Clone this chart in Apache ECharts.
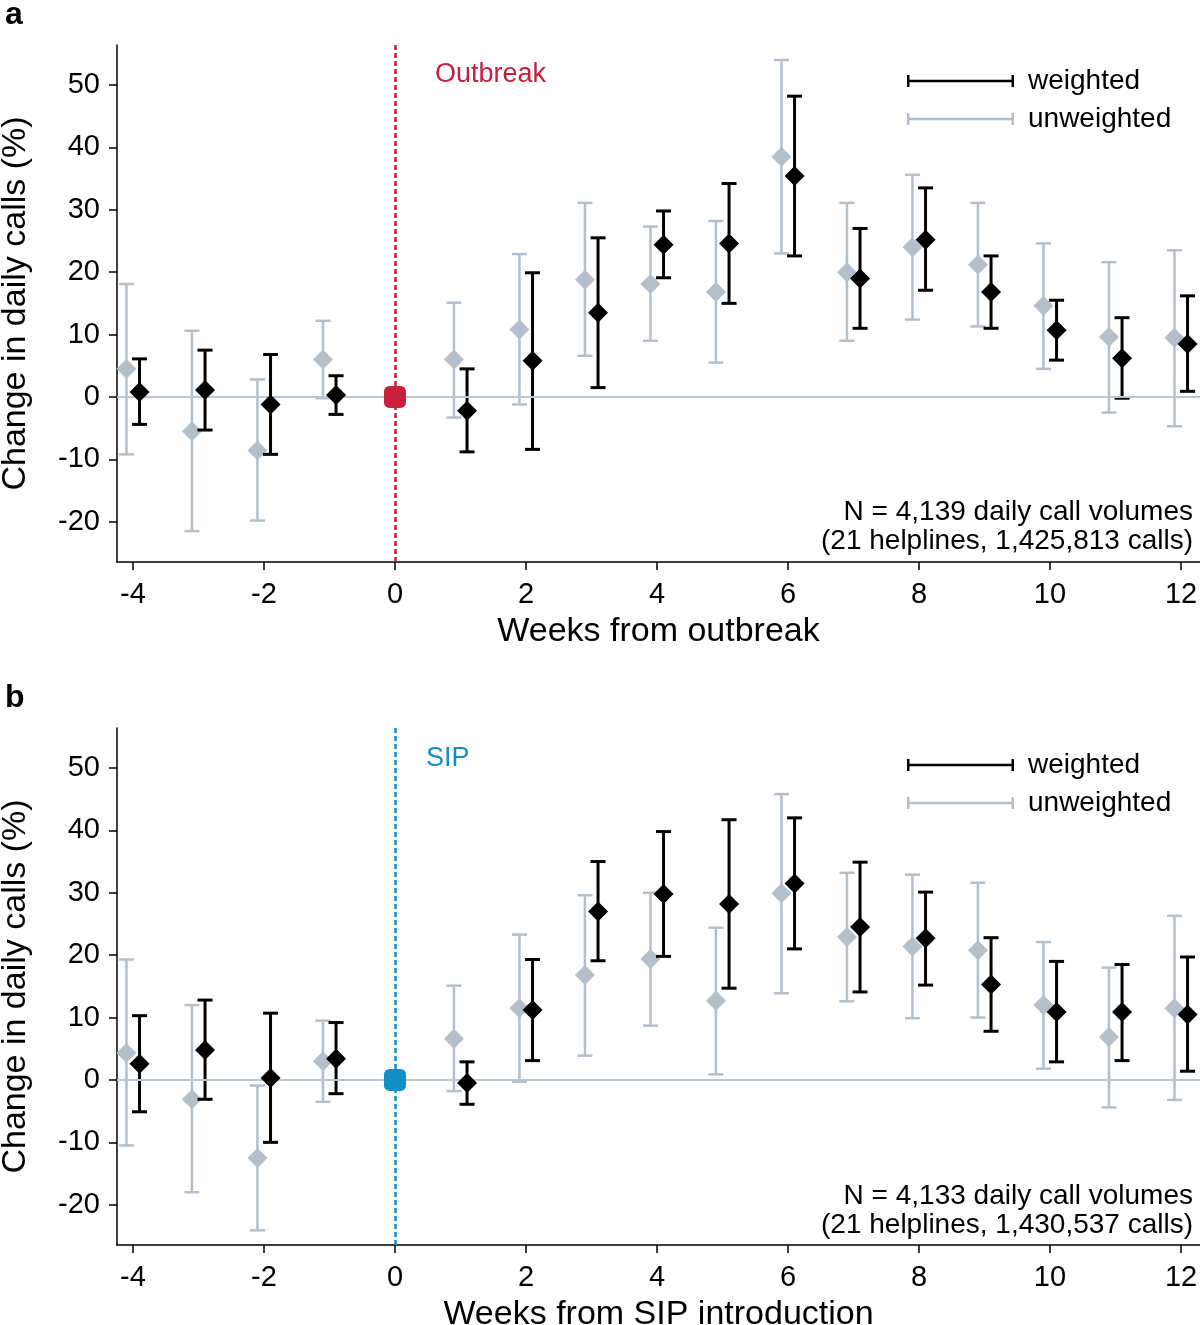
<!DOCTYPE html>
<html>
<head>
<meta charset="utf-8">
<script src="https://cdn.jsdelivr.net/npm/echarts@6/dist/echarts.min.js"></script>
<style>
html,body{margin:0;padding:0;background:#fff;}
#chart{width:1200px;height:1325px;}
</style>
</head>
<body>
<div id="chart"></div>
<script>
// ---------- data ----------
const weeks = [-4, -3, -2, -1, 1, 2, 3, 4, 5, 6, 7, 8, 9, 10, 11, 12];
const xTicks = [-4, -2, 0, 2, 4, 6, 8, 10, 12];
const yTicks = [-20, -10, 0, 10, 20, 30, 40, 50];

// Panel a: outbreak
const aWeightedEst  = [0.8, 1.1, -1.2, 0.3, -2.2, 5.8, 13.5, 24.4, 24.6, 35.4, 19.0, 25.2, 16.8, 10.7, 6.2, 8.5];
const aWeightedLow  = [-4.4, -5.3, -9.2, -2.8, -8.8, -8.4, 1.5, 19.1, 15.0, 22.6, 11.0, 17.1, 11.0, 5.9, -0.2, 0.9];
const aWeightedHigh = [6.1, 7.5, 6.8, 3.4, 4.5, 19.9, 25.5, 29.8, 34.2, 48.2, 27.0, 33.5, 22.6, 15.5, 12.7, 16.2];
const aUnweightedEst  = [4.5, -5.5, -8.6, 6.0, 6.0, 10.8, 18.8, 18.1, 16.8, 38.5, 20.0, 24.0, 21.2, 14.6, 9.6, 9.5];
const aUnweightedLow  = [-9.2, -21.5, -19.8, -0.2, -3.3, -1.2, 6.6, 9.0, 5.5, 23.0, 9.0, 12.4, 11.3, 4.5, -2.5, -4.7];
const aUnweightedHigh = [18.1, 10.6, 2.8, 12.2, 15.1, 22.9, 31.1, 27.3, 28.2, 54.0, 31.1, 35.6, 31.1, 24.6, 21.6, 23.5];

// Panel b: SIP introduction
const bWeightedEst  = [2.6, 4.8, 0.3, 3.4, -0.5, 11.2, 27.0, 29.8, 28.2, 31.5, 24.5, 22.7, 15.3, 10.9, 10.9, 10.5];
const bWeightedLow  = [-5.1, -3.1, -10.0, -2.2, -3.9, 3.1, 19.1, 19.8, 14.7, 21.0, 14.1, 15.2, 7.8, 2.9, 3.1, 1.4];
const bWeightedHigh = [10.3, 12.8, 10.7, 9.2, 2.9, 19.3, 35.0, 39.8, 41.7, 42.0, 34.9, 30.1, 22.8, 19.0, 18.5, 19.7];
const bUnweightedEst  = [4.3, -3.1, -12.5, 3.0, 6.6, 11.5, 16.8, 19.4, 12.7, 29.9, 22.9, 21.4, 20.8, 12.0, 6.9, 11.5];
const bUnweightedLow  = [-10.5, -18.0, -24.1, -3.5, -1.8, -0.3, 3.9, 8.7, 0.9, 13.9, 12.6, 9.9, 10.0, 1.8, -4.4, -3.2];
const bUnweightedHigh = [19.3, 12.0, -0.9, 9.5, 15.1, 23.3, 29.6, 30.0, 24.4, 45.8, 33.2, 32.9, 31.6, 22.1, 18.0, 26.3];

const refPoint = [[0, 0]];

// ---------- style ----------
const FONT = "'Liberation Sans', Arial, Helvetica, sans-serif";
const BLACK = '#000000';
const GRAY = '#b3bfcb';
const ZERO = '#b9c6d3';
const RED = '#c8203c';
const BLUE = '#1290c6';
const OFF = 0.1;

function errRender(color, lw) {
  return function (params, api) {
    const x = api.value(0);
    const p1 = api.coord([x, api.value(1)]);
    const p2 = api.coord([x, api.value(2)]);
    const h = 7.5;
    const st = { stroke: color, lineWidth: lw, fill: null };
    return {
      type: 'group',
      children: [
        { type: 'line', shape: { x1: p1[0], y1: p1[1], x2: p2[0], y2: p2[1] }, style: st },
        { type: 'line', shape: { x1: p1[0] - h, y1: p1[1], x2: p1[0] + h, y2: p1[1] }, style: st },
        { type: 'line', shape: { x1: p2[0] - h, y1: p2[1], x2: p2[0] + h, y2: p2[1] }, style: st }
      ]
    };
  };
}

function panelSeries(idx, wEst, wLo, wHi, uEst, uLo, uHi, refColor) {
  const uBars = weeks.map((w, i) => [w - OFF, uLo[i], uHi[i]]);
  const wBars = weeks.map((w, i) => [w + OFF, wLo[i], wHi[i]]);
  const uPts = weeks.map((w, i) => [w - OFF, uEst[i]]);
  const wPts = weeks.map((w, i) => [w + OFF, wEst[i]]);
  return [
    {
      name: 'unweighted', type: 'custom', xAxisIndex: idx, yAxisIndex: idx,
      itemStyle: { color: GRAY }, z: 2, silent: true,
      encode: { x: 0, y: [1, 2] },
      renderItem: errRender(GRAY, 2.5),
      data: uBars,
      markLine: {
        silent: true, symbol: 'none', animation: false,
        label: { show: false },
        data: [
          { yAxis: 0, lineStyle: { color: ZERO, width: 2, type: 'solid' } },
          { xAxis: 0, lineStyle: { color: refColor, width: 2.5, type: [5, 3] } }
        ]
      }
    },
    {
      name: 'unweighted', type: 'scatter', xAxisIndex: idx, yAxisIndex: idx,
      symbol: 'diamond', symbolSize: [20, 20], z: 3, silent: true,
      itemStyle: { color: GRAY, opacity: 1 },
      data: uPts
    },
    {
      name: 'weighted', type: 'custom', xAxisIndex: idx, yAxisIndex: idx,
      itemStyle: { color: BLACK }, z: 4, silent: true,
      encode: { x: 0, y: [1, 2] },
      renderItem: errRender(BLACK, 3),
      data: wBars
    },
    {
      name: 'weighted', type: 'scatter', xAxisIndex: idx, yAxisIndex: idx,
      symbol: 'diamond', symbolSize: [20, 20], z: 5, silent: true,
      itemStyle: { color: BLACK, opacity: 1 },
      data: wPts
    },
    {
      name: 'ref' + idx, type: 'scatter', xAxisIndex: idx, yAxisIndex: idx,
      symbol: 'roundRect', symbolSize: [22, 22], z: 6, silent: true,
      itemStyle: { color: refColor, opacity: 1, borderRadius: 2 },
      data: refPoint
    }
  ];
}

function xAxisDef(idx, name) {
  return {
    type: 'value', gridIndex: idx, min: -4.244, max: 12.29,
    name: name, nameLocation: 'middle', nameGap: 53,
    nameTextStyle: { fontFamily: FONT, fontSize: 34, color: BLACK },
    axisLine: { show: true, onZero: false, lineStyle: { color: BLACK, width: 1.5 } },
    axisTick: { show: true, length: 8, inside: false, customValues: xTicks, lineStyle: { color: BLACK, width: 1.5 } },
    axisLabel: { show: true, customValues: xTicks, margin: 18, fontFamily: FONT, fontSize: 29, color: BLACK },
    splitLine: { show: false }
  };
}

function yAxisDef(idx) {
  return {
    type: 'value', gridIndex: idx, min: -26.45, max: 56.4,
    name: 'Change in daily calls (%)', nameLocation: 'middle', nameGap: 84, nameRotate: 90,
    nameTextStyle: { fontFamily: FONT, fontSize: 34, color: BLACK },
    axisLine: { show: true, onZero: false, lineStyle: { color: BLACK, width: 1.5 } },
    axisTick: { show: true, length: 8, inside: false, customValues: yTicks, lineStyle: { color: BLACK, width: 1.5 } },
    axisLabel: { show: true, customValues: yTicks, margin: 17, fontFamily: FONT, fontSize: 29, color: BLACK },
    splitLine: { show: false }
  };
}

const legendIcon = 'path://M0,0h2.5v12h-2.5z M0,4.75h107v2.5h-107z M104.5,0h2.5v12h-2.5z';
function legendDef(top) {
  return {
    show: true, orient: 'vertical', left: 907, top: top, padding: 0,
    itemWidth: 107, itemHeight: 12, itemGap: 8, selectedMode: false,
    data: [
      { name: 'weighted', icon: legendIcon, itemStyle: { color: BLACK } },
      { name: 'unweighted', icon: legendIcon, itemStyle: { color: GRAY } }
    ],
    textStyle: { fontFamily: FONT, fontSize: 28, color: BLACK, lineHeight: 30, padding: [0, 0, 0, 9] }
  };
}

function noteText(top, text) {
  return {
    type: 'text', right: 7, top: top, silent: true,
    style: { text: text, fontFamily: FONT, fontSize: 28, fill: BLACK }
  };
}

const chart = echarts.init(document.getElementById('chart'), null, { renderer: 'canvas' });
chart.setOption({
  animation: false,
  backgroundColor: '#ffffff',
  textStyle: { fontFamily: FONT },
  title: [
    { text: 'a', left: 5, top: -1, padding: 0, textStyle: { fontFamily: FONT, fontSize: 32, fontWeight: 'bold', color: BLACK } },
    { text: 'b', left: 5, top: 682, padding: 0, textStyle: { fontFamily: FONT, fontSize: 32, fontWeight: 'bold', color: BLACK } },
    { text: 'Outbreak', left: 435, top: 61, padding: 0, textStyle: { fontFamily: FONT, fontSize: 27, fontWeight: 'normal', color: RED } },
    { text: 'SIP', left: 426, top: 745, padding: 0, textStyle: { fontFamily: FONT, fontSize: 27, fontWeight: 'normal', color: BLUE } }
  ],
  graphic: [
    noteText(498, 'N = 4,139 daily call volumes'),
    noteText(527, '(21 helplines, 1,425,813 calls)'),
    noteText(1182, 'N = 4,133 daily call volumes'),
    noteText(1211, '(21 helplines, 1,430,537 calls)')
  ],
  legend: [legendDef(66), legendDef(750)],
  grid: [
    { left: 117, top: 45, width: 1083, height: 517, containLabel: false, outerBoundsMode: 'none' },
    { left: 117, top: 728, width: 1083, height: 517, containLabel: false, outerBoundsMode: 'none' }
  ],
  xAxis: [xAxisDef(0, 'Weeks from outbreak'), xAxisDef(1, 'Weeks from SIP introduction')],
  yAxis: [yAxisDef(0), yAxisDef(1)],
  series: [].concat(
    panelSeries(0, aWeightedEst, aWeightedLow, aWeightedHigh, aUnweightedEst, aUnweightedLow, aUnweightedHigh, RED),
    panelSeries(1, bWeightedEst, bWeightedLow, bWeightedHigh, bUnweightedEst, bUnweightedLow, bUnweightedHigh, BLUE)
  )
});
</script>
</body>
</html>
